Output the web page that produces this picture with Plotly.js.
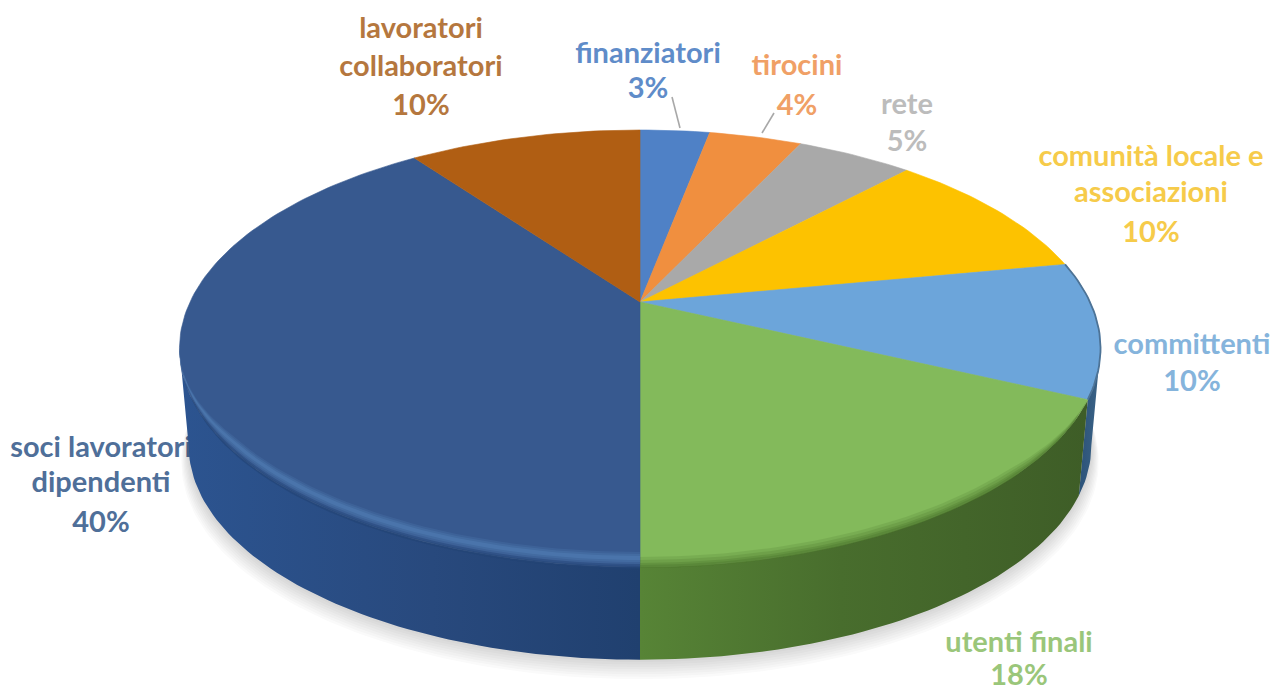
<!DOCTYPE html>
<html>
<head>
<meta charset="utf-8">
<script src="https://cdn.plot.ly/plotly-3.0.1.min.js"></script>
<style>html,body{margin:0;padding:0;background:#fff}#chart{width:1282px;height:692px}</style>
</head>
<body>
<div id="chart"></div>
<script>
// Stakeholder shares, clockwise from twelve o'clock
const categories = ['finanziatori', 'tirocini', 'rete', 'comunità locale e associazioni',
  'committenti', 'utenti finali', 'soci lavoratori dipendenti', 'lavoratori collaboratori'];
const shares = [3, 4, 5, 10, 10, 18, 40, 10];
const labelLines = [['finanziatori'], ['tirocini'], ['rete'], ['comunità locale e', 'associazioni'],
  ['committenti'], ['utenti finali'], ['soci lavoratori', 'dipendenti'], ['lavoratori', 'collaboratori']];

// Presentation
const topColors = ['#4f81c6', '#f08f3f', '#a9a9a9', '#fdc200', '#6ca5da', '#83ba5b', '#37598f', '#b05e13'];
const textColors = ['#5f8cc9', '#f0a066', '#bcbcbc', '#f6cb4a', '#85b4dc', '#9ac67a', '#4f6f99', '#b5773e'];
const labelX = [648, 797, 907, 1151, 1192, 1019, 101, 421];
const labelY = [[56, 91], [68, 108], [107, 144], [159, 195, 235], [347, 384], [645, 678], [450, 485, 525], [31, 69, 108]];
const leaders = [[[672, 680], [97, 128]], [[774, 762], [113, 133]]];

// Tilted-disc projection of the pie
const CX = 640, CY = 302, RX = 450, RY = 208.6, PERSP = 0.2128;
const RIM_SCALE = 0.98, RIM_DROP = 98;
// Shares at which the disc outline reaches its widest points
const WIDEST_RIGHT = 28.4, WIDEST_LEFT = 71.6;

function project(pct, scale, drop) {
  const a = pct / 100 * 2 * Math.PI, u = Math.sin(a), v = Math.cos(a), d = 1 + PERSP * v;
  return [CX + scale * RX * u / d, CY + drop - scale * RY * v / d];
}
function arc(from, to, scale, drop) {
  const n = Math.max(2, Math.ceil(Math.abs(to - from) * 3)), xs = [], ys = [];
  for (let i = 0; i <= n; i++) {
    const p = project(from + (to - from) * i / n, scale, drop);
    xs.push(p[0]); ys.push(p[1]);
  }
  return [xs, ys];
}
function area(xs, ys, color, extra) {
  return Object.assign({ x: xs, y: ys, mode: 'lines', fill: 'toself', fillcolor: color,
    line: { width: 0, color: color }, hoverinfo: 'skip' }, extra || {});
}
// Ribbon following the disc edge from pct "from" to the pointed end at pct "to"
function band(from, to, up, down, color, opacity) {
  const n = Math.ceil(Math.abs(to - from) * 3), xs = [], ys = [], xb = [], yb = [];
  for (let i = 0; i <= n; i++) {
    const t = i / n, pct = from + (to - from) * t, taper = Math.min(1, (1 - t) * 3);
    const a = project(pct, 1, up * taper), b = project(pct, 1, down * taper);
    xs.push(a[0]); ys.push(a[1]); xb.unshift(b[0]); yb.unshift(b[1]);
  }
  return area(xs.concat(xb), ys.concat(yb), color, { opacity: opacity });
}

// Cumulative wedge limits
const limits = [0];
shares.forEach(s => limits.push(limits[limits.length - 1] + s));

const traces = [];

// Labels sit underneath the disc, one text point per line
categories.forEach((name, i) => {
  const lines = labelLines[i].concat([shares[i] + '%']);
  traces.push({
    x: lines.map(() => labelX[i]), y: labelY[i], text: lines, mode: 'text',
    textposition: 'middle center', cliponaxis: false, hoverinfo: 'skip',
    textfont: { family: 'Lato, "Open Sans", sans-serif', size: 29, weight: 700, color: textColors[i] }
  });
});

// Leader lines
leaders.forEach(l => traces.push({ x: l[0], y: l[1], mode: 'lines', line: { color: '#a8a8a8', width: 1.6 }, hoverinfo: 'skip' }));

// Soft ground shadow: stacked translucent discs
for (let i = 0; i < 9; i++) {
  const c = arc(0, 100, RIM_SCALE + 0.002 * i, RIM_DROP + 1.9 * i);
  traces.push(area(c[0], c[1], 'rgba(60,60,60,0.022)'));
}

// Side walls of the wedges facing the viewer, bounded by the widest points of the outline
const sideWalls = [
  { from: WIDEST_RIGHT, to: limits[5], scale: [[0, '#2b5279'], [1, '#3c6487']] },
  { from: limits[5], to: limits[6], scale: [[0, '#578436'], [0.45, '#486d2d'], [1, '#3e5d27']] },
  { from: limits[6], to: WIDEST_LEFT, scale: [[0, '#2c5490'], [0.55, '#28497d'], [1, '#20406f']] }
];
sideWalls.forEach(s => {
  const top = arc(s.from, s.to, 1, 0), low = arc(s.to, s.from, RIM_SCALE, RIM_DROP);
  traces.push(area(top[0].concat(low[0]), top[1].concat(low[1]), 'rgba(0,0,0,0)', {
    fillgradient: { type: 'horizontal', colorscale: s.scale }
  }));
});

// Top face wedges
shares.forEach((s, i) => {
  const c = arc(limits[i], limits[i + 1], 1, 0);
  traces.push(area([CX].concat(c[0], [CX]), [CY].concat(c[1], [CY]), topColors[i],
    { line: { width: 0.6, color: topColors[i] } }));
});

// Thin shaded edge behind the committenti wedge
const backEdge = arc(limits[4], limits[5], 1, 0);
traces.push({ x: backEdge[0], y: backEdge[1], mode: 'lines', line: { color: '#4d7396', width: 1.8 }, hoverinfo: 'skip' });

// Rounded front edge: green wedge fades into its wall
[[-10, 1, 0.2], [-7, 1, 0.25], [-4, 1, 0.35], [-2, 1, 0.45]].forEach(b =>
  traces.push(band(limits[6], limits[5], b[0], b[1], '#517c31', b[2])));

// Rounded front edge: blue wedge darkens at the lip, with a light glint above it
[[-3, 2, 0.3], [-1, 2, 0.45]].forEach(b =>
  traces.push(band(limits[6], WIDEST_LEFT, b[0], b[1], '#234475', b[2])));
[[-15, -3, 0.16], [-13, -5, 0.2], [-11, -7, 0.26]].forEach(b =>
  traces.push(band(limits[6], WIDEST_LEFT, b[0], b[1], '#5f90c8', b[2])));

const layout = {
  width: 1282, height: 692, showlegend: false,
  margin: { l: 0, r: 0, t: 0, b: 0 },
  paper_bgcolor: '#ffffff', plot_bgcolor: '#ffffff',
  xaxis: { range: [0, 1282], visible: false, fixedrange: true },
  yaxis: { range: [692, 0], visible: false, fixedrange: true },
  hovermode: false
};
Plotly.newPlot('chart', traces, layout, { displayModeBar: false, staticPlot: true });
</script>
</body>
</html>
